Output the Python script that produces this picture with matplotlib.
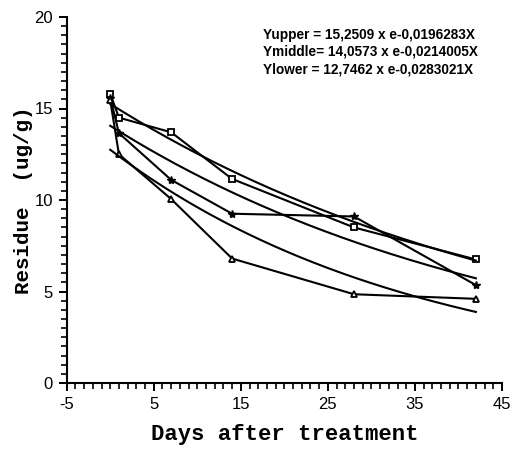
import numpy as np
import matplotlib
matplotlib.use('Agg')
import matplotlib.pyplot as plt
from matplotlib.ticker import MultipleLocator

plt.rcParams['axes.unicode_minus'] = False

# observed residues
days = [0, 1, 7, 14, 28, 42]
upper = [15.8, 14.5, 13.7, 11.15, 8.5, 6.75]
middle = [15.6, 13.65, 11.1, 9.25, 9.1, 5.35]
lower = [15.45, 12.5, 10.05, 6.8, 4.85, 4.6]

# fitted curves Y = a * exp(-b x)
fit_a = [15.2509, 14.0573, 12.7462]
fit_b = [0.0196283, 0.0214005, 0.0283021]
fit_labels = ['Yupper = 15,2509 x e-0,0196283X',
              'Ymiddle= 14,0573 x e-0,0214005X',
              'Ylower = 12,7462 x e-0,0283021X']

fig = plt.figure(figsize=(5.22, 4.51), dpi=100)
ax = fig.add_axes([66.7/522, 68/451, (502-66.7)/522, (383-17)/451])

lw = 1.5
ax.plot(days, upper, color='black', lw=lw, marker='s', ms=5, mfc='white', mec='black', mew=1.3)
ax.plot(days, middle, color='black', lw=lw, marker='*', ms=6, mfc='black', mec='black')
ax.plot(days, lower, color='black', lw=lw, marker='^', ms=5, mfc='white', mec='black', mew=1.3)

xfit = np.linspace(0, 42, 200)
for a, b in zip(fit_a, fit_b):
    ax.plot(xfit, a * np.exp(-b * xfit), color='black', lw=lw)

ax.set_xlim(-5, 45)
ax.set_ylim(0, 20)
ax.set_xticks([-5, 5, 15, 25, 35, 45])
ax.xaxis.set_minor_locator(MultipleLocator(1))
ax.yaxis.set_major_locator(MultipleLocator(5))
ax.yaxis.set_minor_locator(MultipleLocator(0.5))

for s in ['top', 'right']:
    ax.spines[s].set_visible(False)
for s in ['left', 'bottom']:
    ax.spines[s].set_linewidth(1.5)

ax.tick_params(which='major', direction='out', length=6, width=1.4, labelsize=12, pad=4)
ax.tick_params(which='minor', direction='out', length=4, width=1.2)
for lab in ax.get_xticklabels() + ax.get_yticklabels():
    lab.set_fontfamily('Liberation Sans')

ax.set_xlabel('Days after treatment', fontfamily='Liberation Mono', fontweight='bold', fontsize=16, labelpad=9)
ax.set_ylabel('Residue  (ug/g)', fontfamily='Liberation Mono', fontweight='bold', fontsize=15, labelpad=1)

for i, t in enumerate(fit_labels):
    fig.text(263/522, 1 - (35 + 17*i)/451, t, fontfamily='Liberation Sans',
             fontweight='bold', fontsize=9.8, va='center', ha='left')

fig.savefig('out.png', dpi=100)
